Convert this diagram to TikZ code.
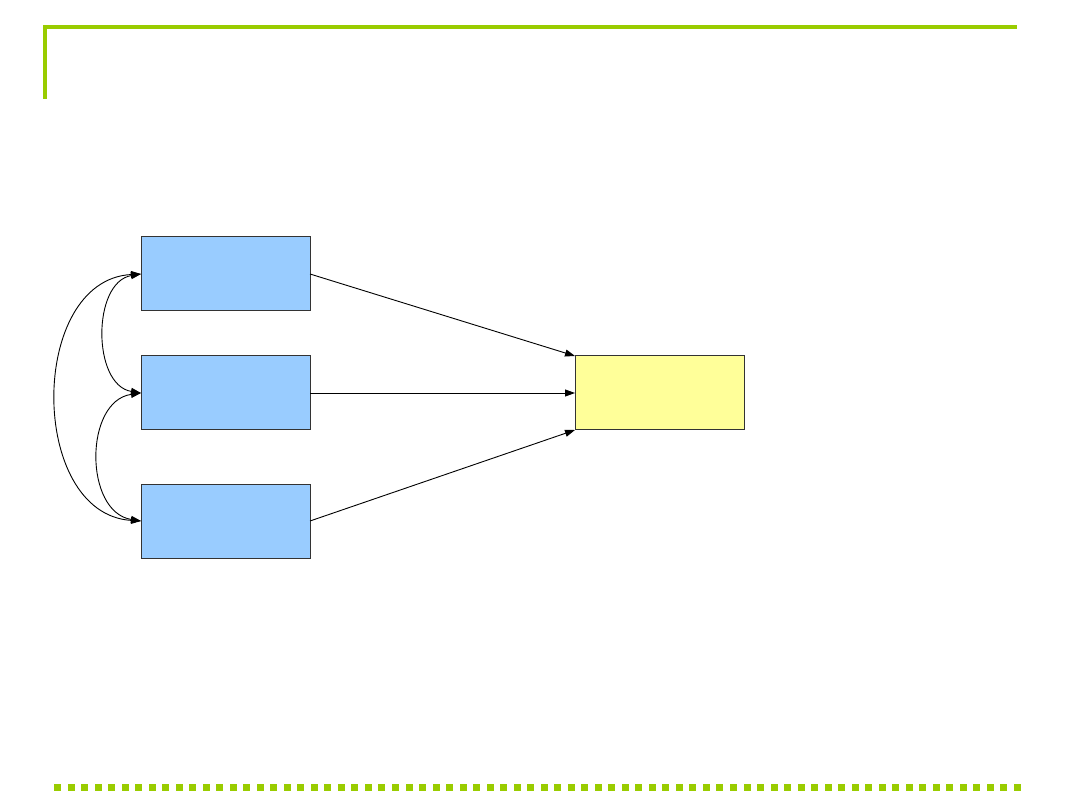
\documentclass[tikz,border=0pt]{standalone}
\usetikzlibrary{arrows.meta}
\definecolor{lime}{HTML}{99CC00}
\definecolor{boxblue}{HTML}{99CCFF}
\definecolor{boxyellow}{HTML}{FFFF99}
\definecolor{edge}{HTML}{333333}
\begin{document}
\begin{tikzpicture}[x=1pt,y=-1pt,
  varbox/.style={draw=edge,line width=1pt,rectangle,minimum width=169pt,minimum height=74pt,inner sep=0pt,outer sep=0pt,anchor=north west},
  path/.style={line width=0.9pt,-{Triangle[length=10pt,width=7pt]}},
  cov/.style={line width=0.9pt,{Triangle[length=10pt,width=7pt]}-{Triangle[length=10pt,width=7pt]}}]
\useasboundingbox (0,0) rectangle (1080,810);
% frame decorations
\fill[lime] (43,25) rectangle (1017,29);
\fill[lime] (43,25) rectangle (47,99);
\foreach \i in {0,...,71}{
  \fill[lime] ({54+13.52*\i},784) rectangle ({61+13.52*\i},791);
}
% boxes
\node[varbox,fill=boxblue] (x1) at (141,237) {};
\node[varbox,fill=boxblue] (x2) at (141,356) {};
\node[varbox,fill=boxblue] (x3) at (141,484) {};
\node[varbox,fill=boxyellow] (y) at (575,356) {};
% paths
\draw[path] (x1.east) -- (y.north west);
\draw[path] (x2.east) -- (y.west);
\draw[path] (x3.east) -- (y.south west);
% covariances
\draw[cov] (x1.west) .. controls (92,282) and (92,385) .. (x2.west);
\draw[cov] (x2.west) .. controls (84,401) and (84,512) .. (x3.west);
\draw[cov] (x1.west) .. controls (28,280) and (28,514) .. (x3.west);
\end{tikzpicture}
\end{document}
